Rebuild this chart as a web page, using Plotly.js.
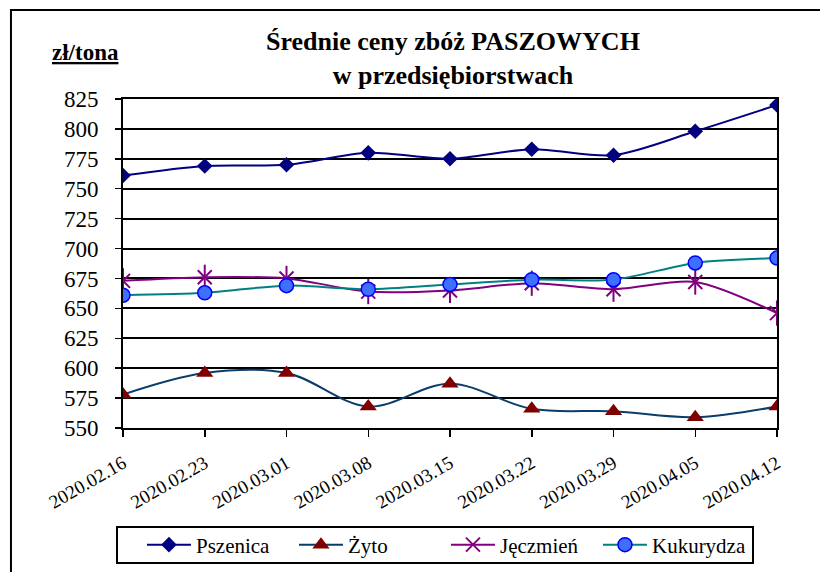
<!DOCTYPE html>
<html>
<head>
<meta charset="utf-8">
<script src="https://cdn.plot.ly/plotly-3.0.1.min.js"></script>
<style>
  html, body { margin: 0; padding: 0; background: #ffffff; }
  #chart { width: 820px; height: 572px; }
</style>
</head>
<body>
<div id="chart"></div>
<script>
// ---- data ----
var dates = ["2020.02.16", "2020.02.23", "2020.03.01", "2020.03.08", "2020.03.15",
             "2020.03.22", "2020.03.29", "2020.04.05", "2020.04.12"];
var seriesNames = ["Pszenica", "Żyto", "Jęczmień", "Kukurydza"];
var pszenica  = [761, 769, 770, 780, 775, 783, 778, 798, 820];
var zyto      = [578, 596, 596, 568, 587, 566, 564, 559, 568];
var jeczmien  = [673, 676, 675, 664, 665, 671, 666, 672, 646];
var kukurydza = [661, 663, 669, 666, 670, 674, 674, 688, 692];
var yTicks = [550, 575, 600, 625, 650, 675, 700, 725, 750, 775, 800, 825];
var titleLine1 = "Średnie ceny zbóż PASZOWYCH";
var titleLine2 = "w przedsiębiorstwach";
var unitLabel = "zł/tona";

var serif = "Liberation Serif";

var traces = [
  { x: dates, y: pszenica, name: seriesNames[0], type: "scatter", mode: "lines+markers",
    line: { color: "#000080", width: 2, shape: "spline", smoothing: 0.8 },
    marker: { symbol: "diamond", size: 12, color: "#000080" } },
  { x: dates, y: zyto, name: seriesNames[1], type: "scatter", mode: "lines+markers",
    line: { color: "#0B3D6B", width: 2, shape: "spline", smoothing: 1 },
    marker: { symbol: "triangle-up", size: 15, color: "#800000" } },
  { x: dates, y: jeczmien, name: seriesNames[2], type: "scatter", mode: "lines+markers",
    line: { color: "#800080", width: 2, shape: "spline", smoothing: 0.8 },
    marker: { symbol: "x-thin-open", size: 14, color: "#800080", line: { color: "#800080", width: 2 } } },
  { x: dates, y: jeczmien, name: seriesNames[2], type: "scatter", mode: "markers",
    showlegend: false, hoverinfo: "skip",
    marker: { symbol: "line-ns-open", size: 18, color: "#800080", line: { color: "#800080", width: 2 } } },
  { x: dates, y: kukurydza, name: seriesNames[3], type: "scatter", mode: "lines+markers",
    line: { color: "#008080", width: 2, shape: "spline", smoothing: 0.8 },
    marker: { symbol: "circle", size: 14, color: "#3F6FFF", line: { color: "#0000FF", width: 1.5 } } }
];

var layout = {
  width: 820, height: 572,
  margin: { l: 123, r: 43, t: 99, b: 144, pad: 0, autoexpand: false },
  paper_bgcolor: "#ffffff", plot_bgcolor: "#ffffff",
  font: { family: serif, color: "#000000" },
  showlegend: true,
  xaxis: {
    type: "category", range: [0, 8], fixedrange: true, automargin: false,
    showline: true, linecolor: "#000000", linewidth: 2, mirror: true,
    showgrid: false, zeroline: false,
    ticks: "outside", ticklen: 7, tickwidth: 1.5, tickcolor: "#000000",
    ticklabelstandoff: 8,
    tickangle: -30, tickfont: { family: serif, size: 19, color: "#000000" }
  },
  yaxis: {
    range: [550, 825], tickvals: yTicks, ticktext: yTicks.map(String), fixedrange: true,
    automargin: false,
    showline: true, linecolor: "#000000", linewidth: 2, mirror: true,
    showgrid: true, gridcolor: "#000000", gridwidth: 2, zeroline: false,
    ticks: "outside", ticklen: 6, tickwidth: 1.5, tickcolor: "#000000",
    ticklabelstandoff: 12,
    tickfont: { family: serif, size: 23, color: "#000000" }
  },
  legend: {
    orientation: "h", x: 0.029, xanchor: "left", y: -0.3556, yanchor: "middle",
    borderwidth: 0, bgcolor: "rgba(0,0,0,0)",
    font: { family: serif, size: 21, color: "#000000" },
    itemwidth: 44, entrywidth: 93, traceorder: "normal",
    itemclick: false, itemdoubleclick: false
  },
  annotations: [
    { text: "<b>" + titleLine1 + "<br>" + titleLine2 + "</b>", xref: "paper", yref: "paper",
      x: 0.505, y: 1.1246, xanchor: "center", yanchor: "middle", showarrow: false,
      align: "center",
      font: { family: serif, size: 26, color: "#000000" } },
    { text: "<b><u>" + unitLabel + "</u></b>", xref: "paper", yref: "paper",
      x: -0.0566, y: 1.14, xanchor: "center", yanchor: "middle", showarrow: false,
      font: { family: serif, size: 23, color: "#000000" } }
  ],
  shapes: [
    { type: "rect", xref: "paper", yref: "paper",
      x0: -0.1713, x1: 1.2, y0: -0.6, y1: 1.2705,
      line: { color: "#000000", width: 2 }, fillcolor: "rgba(0,0,0,0)", layer: "below" },
    { type: "rect", xref: "paper", yref: "paper",
      x0: -0.00917, x1: 0.9633, y0: -0.4103, y1: -0.3009,
      line: { color: "#000000", width: 2 }, fillcolor: "rgba(0,0,0,0)", layer: "below" }
  ]
};

Plotly.newPlot("chart", traces, layout, { displayModeBar: false, staticPlot: true });
</script>
</body>
</html>
